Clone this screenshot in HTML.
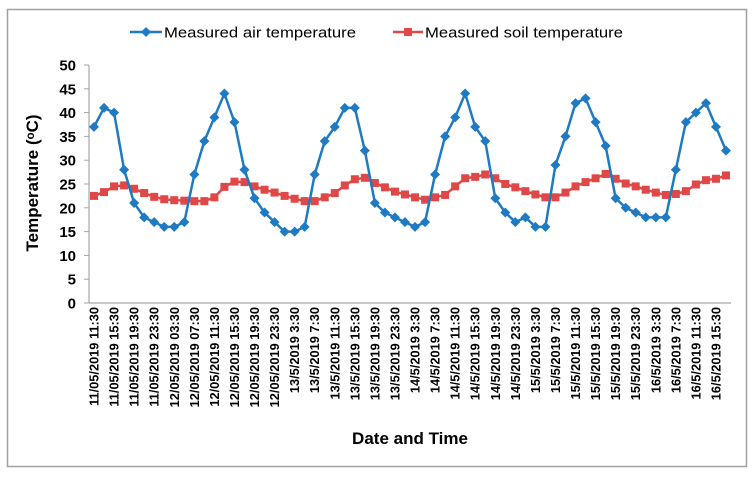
<!DOCTYPE html>
<html><head><meta charset="utf-8"><style>
body{margin:0;background:#fff;}
svg{display:block;font-family:"Liberation Sans",sans-serif;}
</style></head><body>
<svg id="chart" width="754" height="477" viewBox="0 0 754 477">
<rect x="7.5" y="9.5" width="739" height="457" fill="#fff" stroke="#a0a0a0" stroke-width="1.5"/>
<g>
<g>
<line x1="130" y1="32" x2="162" y2="32" stroke="#1f7ac4" stroke-width="2.5"/>
<path d="M146 27 L151 32 L146 37 L141 32 Z" fill="#1f7ac4"/>
<text x="164" y="37.5" font-size="14.5" fill="#000" textLength="192" lengthAdjust="spacingAndGlyphs">Measured air temperature</text>
</g>
<g>
<line x1="393" y1="32" x2="423" y2="32" stroke="#e04848" stroke-width="2.5"/>
<rect x="404" y="28" width="8" height="8" fill="#e04848"/>
<text x="425" y="37.5" font-size="14.5" fill="#000" textLength="198" lengthAdjust="spacingAndGlyphs">Measured soil temperature</text>
</g>
</g>
<text transform="translate(38,183) rotate(-90)" text-anchor="middle" font-size="17" font-weight="bold">Temperature (ᵒC)</text>
<text x="410" y="444" text-anchor="middle" font-size="17" font-weight="bold">Date and Time</text>
<g id="axes"></g>
<g id="marks"></g>
</svg>
<script>
const yTicks = [0,5,10,15,20,25,30,35,40,45,50];
const xLabels = ["11/05/2019 11:30","11/05/2019 15:30","11/05/2019 19:30","11/05/2019 23:30","12/05/2019 03:30","12/05/2019 07:30","12/05/2019 11:30","12/05/2019 15:30","12/05/2019 19:30","12/05/2019 23:30","13/5/2019 3:30","13/5/2019 7:30","13/5/2019 11:30","13/5/2019  15:30","13/5/2019 19:30","13/5/2019 23:30","14/5/2019 3:30","14/5/2019 7:30","14/5/2019 11:30","14/5/2019 15:30","14/5/2019 19:30","14/5/2019 23:30","15/5/2019 3:30","15/5/2019 7:30","15/5/2019 11:30","15/5/2019 15:30","15/5/2019 19:30","15/5/2019 23:30","16/5/2019 3:30","16/5/2019 7:30","16/5/2019 11:30","16/5/2019 15:30"];
const airTemp = [37,41,40,28,21,18,17,16,16,17,27,34,39,44,38,28,22,19,17,15,15,16,27,34,37,41,41,32,21,19,18,17,16,17,27,35,39,44,37,34,22,19,17,18,16,16,29,35,42,43,38,33,22,20,19,18,18,18,28,38,40,42,37,32];
const soilTemp = [22.5,23.3,24.5,24.7,24.0,23.1,22.3,21.8,21.6,21.5,21.4,21.4,22.2,24.4,25.5,25.4,24.5,23.8,23.2,22.5,21.9,21.4,21.4,22.2,23.1,24.7,26.0,26.3,25.2,24.3,23.4,22.8,22.2,21.7,22.2,22.7,24.5,26.2,26.5,27.0,26.2,25.0,24.3,23.5,22.8,22.2,22.2,23.2,24.5,25.4,26.2,27.1,26.1,25.1,24.5,23.8,23.2,22.7,22.9,23.5,24.9,25.8,26.1,26.8];

const NS="http://www.w3.org/2000/svg";
const X0=89,X1=731,Y0=303,Y1=65,YMAX=50;
const N=airTemp.length;
const step=(X1-X0-10)/(N-1);
const xPos=i=>X0+5+i*step;
const yPos=v=>Y0-(v/YMAX)*(Y0-Y1);
const axes=document.getElementById('axes'), marks=document.getElementById('marks');
function mk(tag,attrs,parent){const e=document.createElementNS(NS,tag);for(const k in attrs)e.setAttribute(k,attrs[k]);parent.appendChild(e);return e;}

const yAxis=mk('line',{x1:X0,y1:Y1,x2:X0,y2:Y0,stroke:'#a6a6a6','stroke-width':1.2},axes);


const xAxis=mk('line',{x1:X0,y1:Y0,x2:X1,y2:Y0,stroke:'#a6a6a6','stroke-width':1.2},axes);


yTicks.forEach(t=>{
  const y=yPos(t);
  const tk=mk('line',{x1:X0-5,y1:y,x2:X0,y2:y,stroke:'#a6a6a6','stroke-width':1},axes);
  
  
  const tx=mk('text',{x:76,y:y+5.5,'text-anchor':'end','font-size':15,'font-weight':'bold'},axes);
  tx.textContent=t;
  
  
});
xLabels.forEach((l,j)=>{
  const x=xPos(j*2);
  const tx=mk('text',{transform:`translate(${x+4.5},307) rotate(-90)`,'text-anchor':'end','font-size':12.8,'font-weight':'bold','xml:space':'preserve'},axes);
  tx.textContent=l;
  
  
});

function series(vals,color,shape,name){
  const pl=mk('polyline',{points:vals.map((v,i)=>xPos(i)+','+yPos(v)).join(' '),fill:'none',stroke:color,'stroke-width':2.5,'stroke-linejoin':'round'},marks);
  
  
  vals.forEach((v,i)=>{
    const x=xPos(i),y=yPos(v);
    let m;
    if(shape==='diamond') m=mk('path',{d:`M${x} ${y-5} L${x+5} ${y} L${x} ${y+5} L${x-5} ${y} Z`,fill:color},marks);
    else m=mk('rect',{x:x-4,y:y-4,width:8,height:8,fill:color},marks);
    
    
  });
}
series(soilTemp,'#e04848','square','soil-temp');
series(airTemp,'#1f7ac4','diamond','air-temp');
</script>
</body></html>
